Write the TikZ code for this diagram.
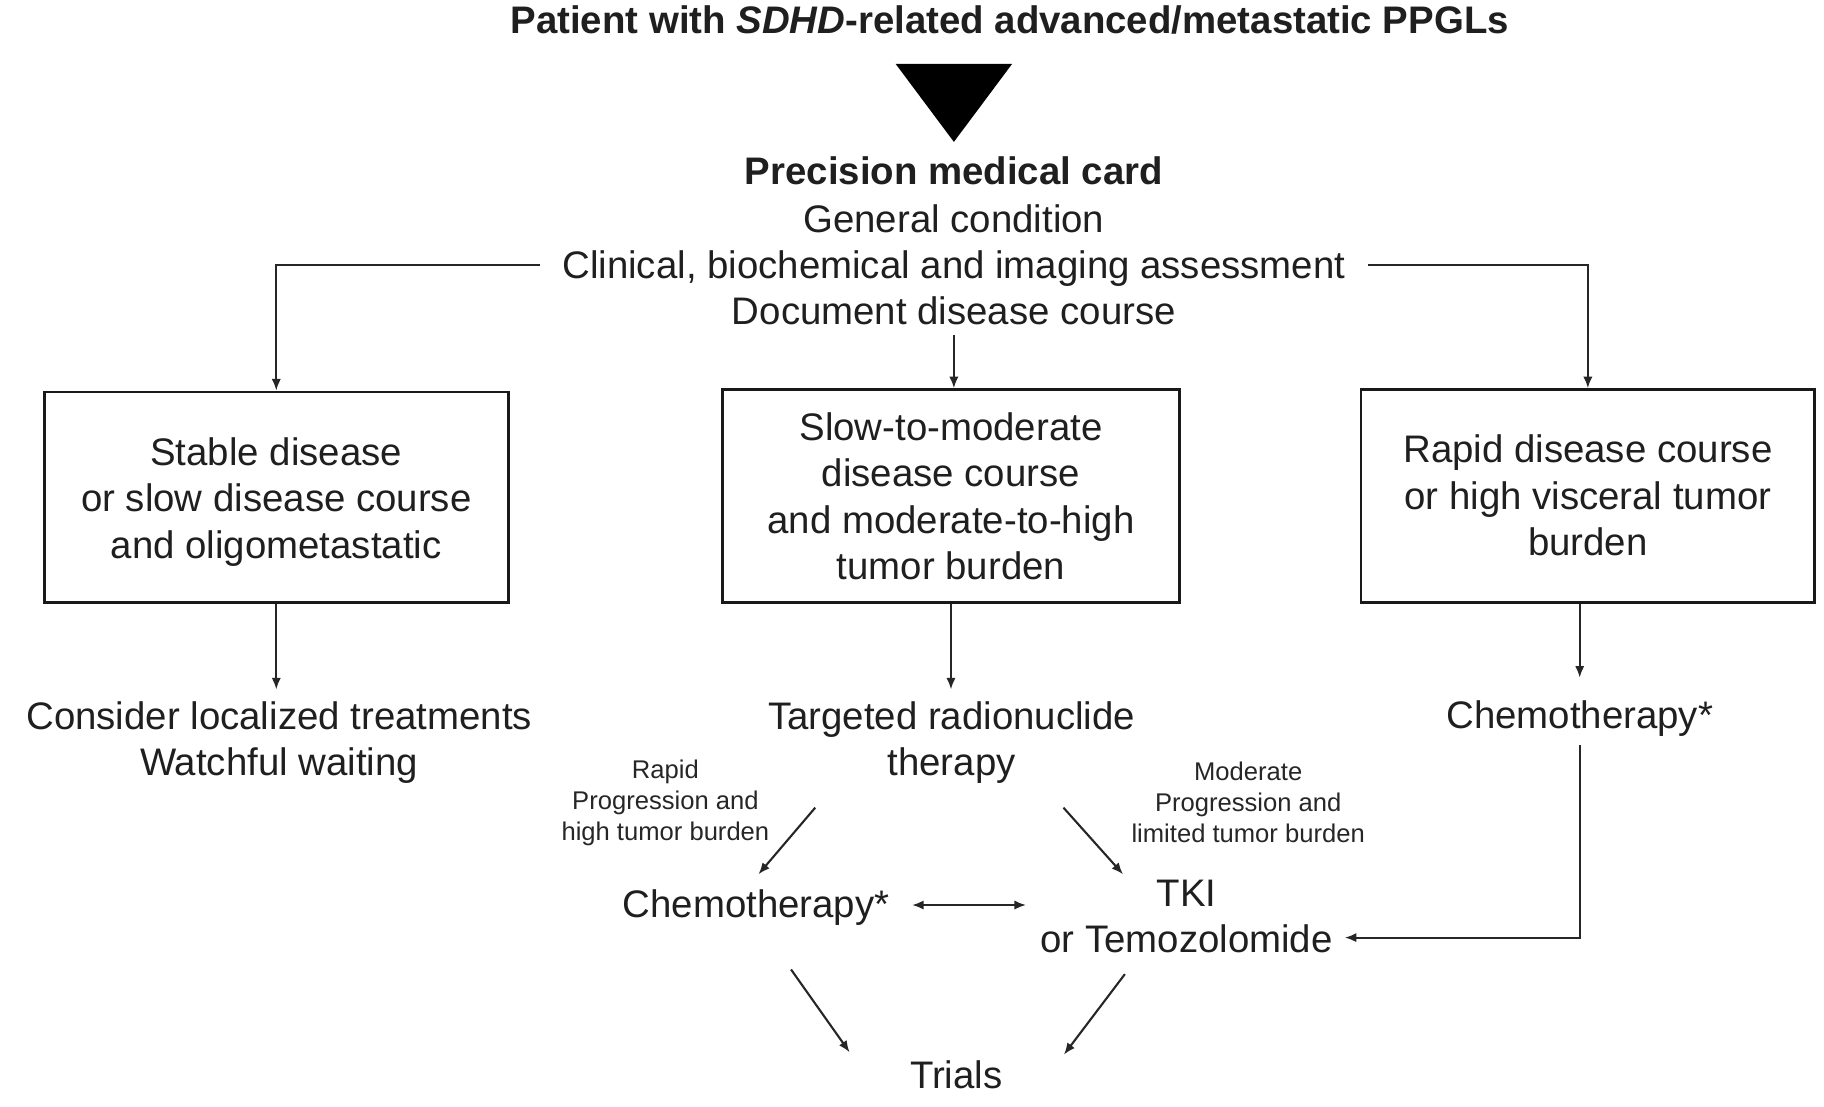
\documentclass[tikz,border=0pt]{standalone}
\usepackage{fontspec}
\setmainfont{Liberation Sans}
\usetikzlibrary{arrows.meta,calc}
\tikzset{
  txt/.style={font=\fontsize{16.5pt}{20pt}\selectfont, inner sep=0pt, text=black!88, align=center},
  one/.style={txt, text height=12pt, text depth=1pt},
  small/.style={font=\fontsize{11pt}{13.25pt}\selectfont, inner sep=0pt, text=black!85, align=center},
  boxn/.style={draw=black!90, line width=1.2pt, inner sep=0pt},
  arr/.style={draw=black!85, line width=0.9pt, -{Latex[length=5pt,width=4pt]}},
  dbl/.style={draw=black!85, line width=0.9pt, {Latex[length=5pt,width=4pt]}-{Latex[length=5pt,width=4pt]}}
}
\begin{document}
\begin{tikzpicture}[x=0.5pt,y=-0.5pt]
\useasboundingbox (0,0) rectangle (1568,951);
% title
\node[one] (title) at (868,18) {\bfseries Patient with \textit{SDHD}-related advanced/metastatic PPGLs};
\fill[black] (770,55) -- (870,55) -- (820,122) -- cycle;
% card
\node[one] (card) at (820,148) {\bfseries Precision medical card};
\node[one] (gen) at (820,189) {General condition};
\node[one, inner xsep=9.5pt] (clin) at (820,228) {Clinical, biochemical and imaging assessment};
\node[one, inner ysep=3.5pt] (doc) at (820,268) {Document disease course};
% boxes
\node[boxn, minimum width=199.5pt, minimum height=90.5pt] (b1) at (237.5,427.5) {};
\node[boxn, minimum width=196.5pt, minimum height=91.5pt] (b2) at (817.5,426.5) {};
\node[boxn, minimum width=195pt, minimum height=91.5pt] (b3) at (1365,426.5) {};
\node[txt] (t1) at ($(b1.center)+(0,4)$) {Stable disease\\or slow disease course\\and oligometastatic};
\node[txt] (t2) at ($(b2.center)+(0,0)$) {Slow-to-moderate\\disease course\\and moderate-to-high\\tumor burden};
\node[txt] (t3) at ($(b3.center)+(0,-0.5)$) {Rapid disease course\\or high visceral tumor\\burden};
% second level
\node[txt, inner ysep=5pt] (cons) at (240,638.5) {Consider localized treatments\\Watchful waiting};
\node[txt, inner ysep=5pt] (targ) at (818,638.5) {Targeted radionuclide\\therapy};
\node[one, inner ysep=6pt] (ch3) at (1358,615) {Chemotherapy*};
% small labels
\node[small] (lr) at (572,690) {Rapid\\Progression and\\high tumor burden};
\node[small] (lm) at (1073,690) {Moderate\\Progression and\\limited tumor burden};
% third level
\node[one, inner xsep=9.5pt] (ch2) at (650,778) {Chemotherapy*};
\node[one] (tki1) at (1020,768) {TKI};
\node[one, inner xsep=5pt] (tki2) at (1020,808) {or Temozolomide};
\node[one] (trials) at (822,925) {Trials};
% connectors
\draw[arr] (clin.west) -| (b1.north);
\draw[arr] (clin.east) -| (b3.north);
\draw[arr] (doc.south) -- (doc.south |- b2.north);
\draw[arr] (b1.south) -- (b1.south |- cons.north);
\draw[arr] (b2.south) -- (b2.south |- targ.north);
\draw[arr, shorten >=3.5pt] (b3.south -| ch3.north) -- (ch3.north);
\draw[arr] ($(targ.south west)+(41,10)$) -- ($(ch2.north)+(2,-13)$);
\draw[arr] ($(targ.south east)+(-62,10)$) -- ($(tki1.north west)+(-28.5,-3)$);
\draw[dbl] (ch2.east) -- ++(98,0);
\draw[arr] (ch3.south) |- ($(tki2.east)+(0,-2)$);
\draw[arr] ($(ch2.south)+(30,42)$) -- ($(trials.north west)+(-51.5,-7)$);
\draw[arr] ($(tki2.south)+(-53,16)$) -- ($(trials.north east)+(52.5,-5)$);
\end{tikzpicture}
\end{document}
